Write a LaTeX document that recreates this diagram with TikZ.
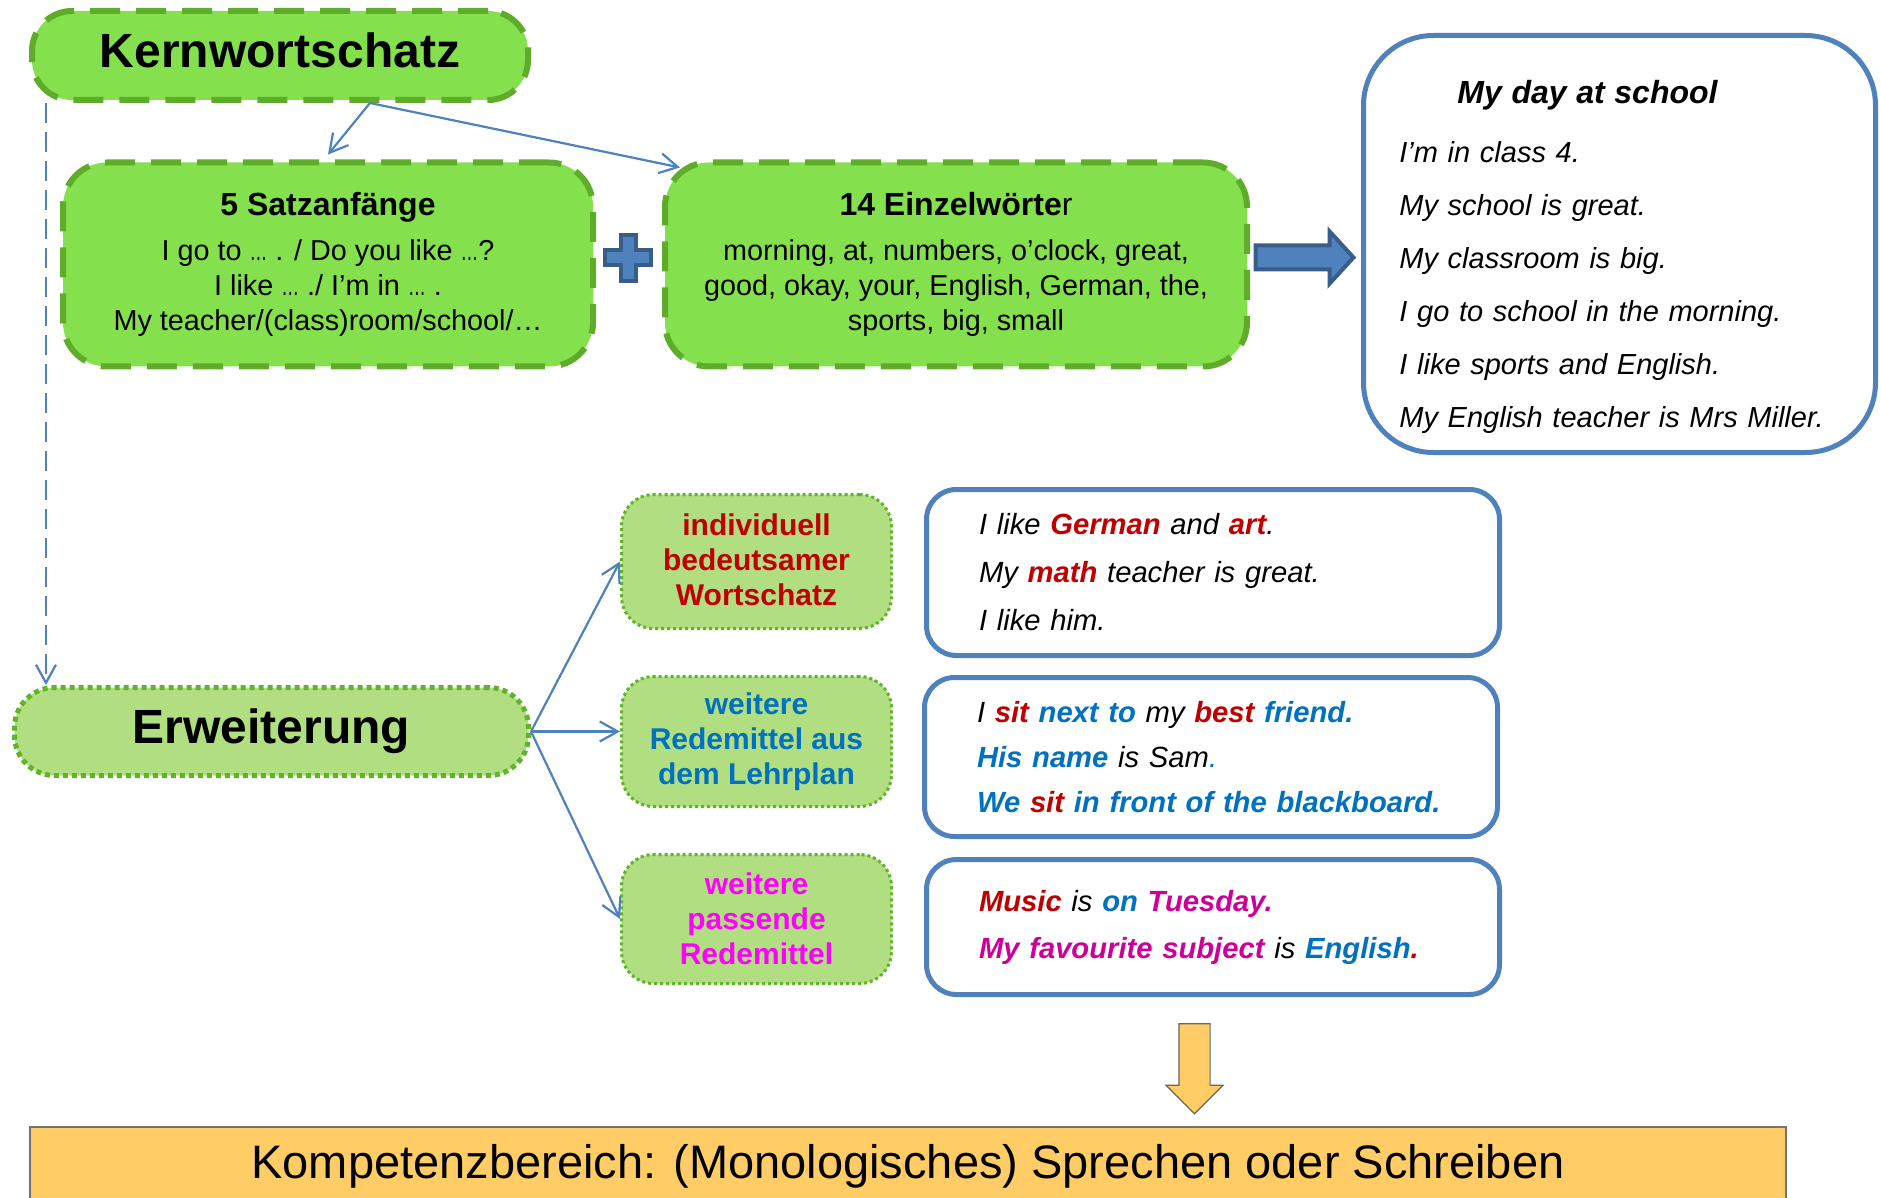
\documentclass[tikz,border=0pt]{standalone}
\usepackage{fontspec}
\setmainfont{Liberation Sans}
\usetikzlibrary{arrows.meta,shapes.arrows}

\definecolor{corefill}{RGB}{132,224,76}
\definecolor{coreline}{RGB}{94,172,42}
\definecolor{extfill}{RGB}{176,222,128}
\definecolor{extline}{RGB}{96,180,42}
\definecolor{linkblue}{RGB}{79,129,189}
\definecolor{darkblue}{RGB}{56,93,138}
\definecolor{exred}{RGB}{192,0,0}
\definecolor{exblue}{RGB}{0,112,192}
\definecolor{expink}{RGB}{204,0,153}
\definecolor{magenta}{RGB}{255,0,255}
\definecolor{sunny}{RGB}{255,204,102}

\newcommand{\wred}[1]{\textcolor{exred}{\textbf{#1}}}
\newcommand{\wblue}[1]{\textcolor{exblue}{\textbf{#1}}}
\newcommand{\wpink}[1]{\textcolor{expink}{\textbf{#1}}}
\newcommand{\tightdots}{\scalebox{0.62}[1]{…}}

\begin{document}
\begin{tikzpicture}[x=0.5pt,y=-0.5pt,>={Straight Barb[length=9pt,width=10pt]},
    corebox/.style={draw=coreline,fill=corefill,line width=3pt,dash pattern=on 15pt off 8pt,
      rounded corners=22pt,align=center,font=\fontsize{14.4}{17.5}\selectfont},
    extbox/.style={draw=extline,fill=extfill,line width=1.5pt,dash pattern=on 1.5pt off 1.5pt,
      rounded corners=16pt,align=center,minimum width=135pt,font=\fontsize{15}{17.5}\selectfont\bfseries},
    samplebox/.style={draw=linkblue,line width=2.5pt,rounded corners=15pt,minimum width=286.5pt,
      text width=234pt,align=left},
    link/.style={draw=linkblue,line width=1.1pt},
    fatarrow/.style={single arrow,draw=darkblue,fill=linkblue,line width=2pt,minimum height=49pt,
      minimum width=24pt,inner sep=5pt,single arrow head extend=7pt,single arrow tip angle=95},
    droparrow/.style={single arrow,draw=black!60,fill=sunny,line width=0.6pt,minimum height=45pt,
      minimum width=28pt,inner sep=7.5pt,single arrow head extend=6.5pt,shape border rotate=270}]
  \useasboundingbox (0,0) rectangle (1881,1198);

  % Kernwortschatz
  \node[corebox,minimum width=248pt,minimum height=44.5pt,rounded corners=20pt,text depth=5pt,
    font=\fontsize{24}{28}\selectfont\bfseries] (kern) at (280,55.5) {Kernwortschatz};
  \node[corebox,minimum width=265pt,minimum height=102pt] (satz) at (328,264.5)
    {{\fontsize{16}{19}\selectfont\bfseries 5 Satzanfänge}\\[5pt]
     I go to \tightdots{} . / Do you like \tightdots?\\ I like \tightdots{} ./ I’m in \tightdots{} .\\
     My teacher/(class)room/school/…};
  \node[corebox,minimum width=291pt,minimum height=102pt] (einzel) at (956,264.5)
    {{\fontsize{16}{19}\selectfont\textbf{14 Einzelwörte}r}\\[5pt]
     morning, at, numbers, o’clock, great,\\ good, okay, your, English, German, the,\\ sports, big, small};
  \draw[draw=darkblue,fill=linkblue,line width=2pt] (628,258) ++(-7.5,-23) -- ++(15,0) -- ++(0,15.5)
    -- ++(15.5,0) -- ++(0,15) -- ++(-15.5,0) -- ++(0,15.5) -- ++(-15,0) -- ++(0,-15.5)
    -- ++(-15.5,0) -- ++(0,-15) -- ++(15.5,0) -- cycle;
  \node[fatarrow] (push) at (1299,257.5) {};

  % Text
  \node[draw=linkblue,line width=2.5pt,rounded corners=35pt,minimum width=256pt,minimum height=208.5pt]
    (day) at (1619.5,244) {};
  \node[text width=225pt,align=left,anchor=base west,inner sep=0pt,
    font=\fontsize{14.5}{26.5}\selectfont\itshape] (daytext) at (1399,104)
    {\hspace*{29pt}{\fontsize{16}{19}\selectfont\bfseries My day at school}\\[3pt]
     I’m in class 4.\\ My school is great.\\ My classroom is big.\\
     I go to school in the morning.\\ I like sports and English.\\ My English teacher is Mrs Miller.};

  % Erweiterung
  \node[draw=extline,fill=extfill,line width=2.5pt,dash pattern=on 2.5pt off 2pt,rounded corners=20pt,
    minimum width=257pt,minimum height=44pt,font=\fontsize{24}{28}\selectfont\bfseries]
    (erw) at (271.5,731.5) {Erweiterung};
  \node[extbox,minimum height=67pt,text=exred,text depth=2pt] (ind) at (756.5,561.5)
    {individuell\\ bedeutsamer\\ Wortschatz};
  \node[extbox,minimum height=65pt,text=exblue] (redem) at (756.5,741.5)
    {weitere\\ Redemittel aus\\ dem Lehrplan};
  \node[extbox,minimum height=64.5pt,text=magenta] (pass) at (756.5,919)
    {weitere\\ passende\\ Redemittel};

  \node[samplebox,minimum height=83pt,font=\fontsize{14.6}{24}\selectfont\itshape] (ex1) at (1213,572.5)
    {I like \wred{German} and \wred{art}.\\ My \wred{math} teacher is great.\\ I like him.};
  \node[samplebox,minimum height=79.5pt,font=\fontsize{14.6}{22.5}\selectfont\itshape] (ex2) at (1211,757)
    {I \wred{sit} \wblue{next to} my \wred{best} \wblue{friend.}\\
     \wblue{His name} is Sam\textcolor{exblue}{.}\\
     \wblue{We} \wred{sit} \wblue{in front of the blackboard.}};
  \node[samplebox,minimum height=67.5pt,font=\fontsize{14.6}{23.5}\selectfont\itshape] (ex3) at (1213,927)
    {\wred{Music} is \wblue{on} \wpink{Tuesday.}\\
     \wpink{My favourite subject} is \wblue{English}\wred{.}};

  \node[droparrow] (drop) at (1194.5,1061) {};
  \node[draw=black!55,fill=sunny,line width=0.75pt,minimum width=878pt,minimum height=39pt,
    font=\fontsize{23.5}{28}\selectfont] (kompetenz) at (908,1166)
    {Kompetenzbereich: (Monologisches) Sprechen oder Schreiben};

  % Connectors
  \coordinate (kernfoot) at (370,103);
  \draw[link,->] (kernfoot) -- ([yshift=2.5pt]satz.north);
  \draw[link,->] (kernfoot) -- ([xshift=9pt,yshift=-4pt]einzel.north west);
  \draw[link,dash pattern=on 10pt off 4.5pt,->] ([xshift=8.5pt]kern.south west)
    -- ([xshift=8.5pt]kern.south west |- erw.north);
  \draw[link,->] (erw.east) -- (ind.west);
  \draw[link,->] (erw.east) -- (erw.east -| redem.west);
  \draw[link,->] (erw.east) -- (pass.west);
\end{tikzpicture}
\end{document}
